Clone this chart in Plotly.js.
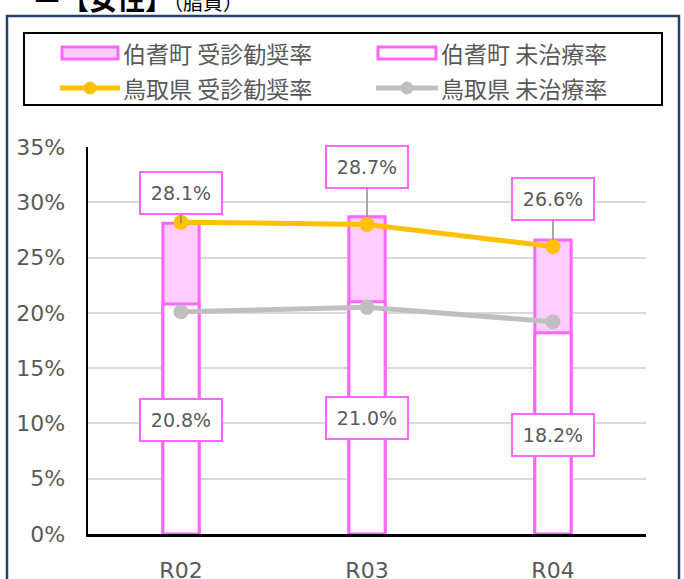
<!DOCTYPE html>
<html><head><meta charset="utf-8">
<script src="https://cdn.plot.ly/plotly-3.0.1.min.js"></script>
<style>html,body{margin:0;padding:0;background:#fff;overflow:hidden}#chart{width:684px;height:579px;}</style>
</head><body><div id="chart"></div>
<script>
// ---- data ----
const categories = ['R02', 'R03', 'R04'];
const hakuRecommend = [28.1, 28.7, 26.6];     // 伯耆町 受診勧奨率
const hakuUntreated = [20.8, 21.0, 18.2];     // 伯耆町 未治療率
const tottoriRecommend = [28.2, 28.0, 26.0];  // 鳥取県 受診勧奨率
const tottoriUntreated = [20.1, 20.5, 19.2];  // 鳥取県 未治療率
const seriesNames = ['伯耆町 受診勧奨率', '伯耆町 未治療率', '鳥取県 受診勧奨率', '鳥取県 未治療率'];
const yTickVals = [0, 5, 10, 15, 20, 25, 30, 35];
const yTickText = ['0%', '5%', '10%', '15%', '20%', '25%', '30%', '35%'];

// ---- layout constants ----
const W = 684, H = 579, ML = 88, MR = 38, MT = 147, MB = 45;
const PW = W - ML - MR, PH = H - MT - MB;
const px = x => (x - ML) / PW;
const py = y => (H - MB - y) / PH;
const PINK = '#FF66FF', PINKFILL = '#FFCCFF', ORANGE = '#FFC000', GRAY = '#BFBFBF', TXT = '#595959';
const FONT = 'DejaVu Sans, Noto Sans CJK JP, sans-serif';
const CJK = 'Noto Sans CJK JP, sans-serif';
const upperOffsets = [-30, -50, -41];       // px offset of upper label boxes
const lowerLabelY = [10.27, 10.45, 8.95];   // label box centres (axis units)

const traces = [
  {type: 'bar', name: seriesNames[0], x: categories, y: hakuRecommend, width: 0.195,
   marker: {color: PINKFILL, line: {color: PINK, width: 3}}, showlegend: false, hoverinfo: 'skip'},
  {type: 'bar', name: seriesNames[1], x: categories, y: hakuUntreated, width: 0.195,
   marker: {color: '#FFFFFF', line: {color: PINK, width: 3}}, showlegend: false, hoverinfo: 'skip'},
  {type: 'scatter', mode: 'lines+markers', name: seriesNames[2], x: categories, y: tottoriRecommend,
   line: {color: ORANGE, width: 5}, marker: {color: ORANGE, size: 15}, showlegend: false, hoverinfo: 'skip'},
  {type: 'scatter', mode: 'lines+markers', name: seriesNames[3], x: categories, y: tottoriUntreated,
   line: {color: GRAY, width: 5}, marker: {color: GRAY, size: 15}, showlegend: false, hoverinfo: 'skip'}
];

const annotations = [];
categories.forEach((c, i) => {
  annotations.push({x: c, y: hakuRecommend[i], xref: 'x', yref: 'y',
    text: hakuRecommend[i].toFixed(1) + '%', showarrow: true, arrowhead: 0, arrowwidth: 1.5,
    arrowcolor: '#8C8C8C', ax: 0, ay: upperOffsets[i], standoff: 0,
    bgcolor: '#FFFFFF', bordercolor: PINK, borderwidth: 2, borderpad: 3, width: 74, height: 34,
    font: {family: FONT, size: 19, color: TXT}});
  annotations.push({x: c, y: lowerLabelY[i], xref: 'x', yref: 'y',
    text: hakuUntreated[i].toFixed(1) + '%', showarrow: false, xanchor: 'center', yanchor: 'middle',
    bgcolor: '#FFFFFF', bordercolor: PINK, borderwidth: 2, borderpad: 3, width: 74, height: 34,
    font: {family: FONT, size: 19, color: TXT}});
});

// legend texts
const legendPos = [[121, 53], [439, 53], [121, 88], [439, 88]];
seriesNames.forEach((n, i) => {
  annotations.push({xref: 'paper', yref: 'paper', x: px(legendPos[i][0]), y: py(legendPos[i][1]),
    xanchor: 'left', yanchor: 'middle', showarrow: false, text: n,
    font: {family: CJK, size: 23, color: TXT}});
});

// partially visible heading
annotations.push({xref: 'paper', yref: 'paper', x: px(31), y: py(20), xanchor: 'left', yanchor: 'bottom',
  showarrow: false,
  text: '<span style="baseline-shift:8px">■</span><b>【女性】</b><span style="font-size:20px">（脂質）</span>',
  font: {family: CJK, size: 28, color: '#000000'}});

const shapes = [
  // outer frame
  {type: 'rect', xref: 'paper', yref: 'paper', x0: px(7), x1: px(679), y0: py(620), y1: py(16),
   line: {color: '#24406B', width: 2.5}, fillcolor: 'rgba(0,0,0,0)', layer: 'above'},
  // legend box
  {type: 'rect', xref: 'paper', yref: 'paper', x0: px(24), x1: px(662), y0: py(105), y1: py(33),
   line: {color: '#000000', width: 2}, fillcolor: 'rgba(0,0,0,0)', layer: 'above'},
  // legend symbols
  {type: 'rect', xref: 'paper', yref: 'paper', x0: px(62), x1: px(118), y0: py(59), y1: py(47),
   line: {color: PINK, width: 3}, fillcolor: PINKFILL, layer: 'above'},
  {type: 'rect', xref: 'paper', yref: 'paper', x0: px(378), x1: px(436), y0: py(59), y1: py(47),
   line: {color: PINK, width: 3}, fillcolor: '#FFFFFF', layer: 'above'},
  {type: 'line', xref: 'paper', yref: 'paper', x0: px(60), x1: px(120), y0: py(88), y1: py(88),
   line: {color: ORANGE, width: 5}, layer: 'above'},
  {type: 'circle', xref: 'paper', yref: 'paper', x0: px(84), x1: px(96), y0: py(94), y1: py(82),
   line: {color: ORANGE, width: 1}, fillcolor: ORANGE, layer: 'above'},
  {type: 'line', xref: 'paper', yref: 'paper', x0: px(376), x1: px(438), y0: py(88), y1: py(88),
   line: {color: GRAY, width: 5}, layer: 'above'},
  {type: 'circle', xref: 'paper', yref: 'paper', x0: px(401), x1: px(413), y0: py(94), y1: py(82),
   line: {color: GRAY, width: 1}, fillcolor: GRAY, layer: 'above'}
];

const layout = {
  width: W, height: H,
  margin: {l: ML, r: MR, t: MT, b: MB, pad: 0},
  paper_bgcolor: '#FFFFFF', plot_bgcolor: '#FFFFFF',
  barmode: 'overlay', showlegend: false,
  font: {family: FONT, color: TXT},
  xaxis: {type: 'category', range: [-0.5, 2.5], showgrid: false, zeroline: false,
    showline: true, linecolor: '#000000', linewidth: 3, ticks: '', ticklabelstandoff: 15,
    tickfont: {family: FONT, size: 22, color: TXT}, fixedrange: true, automargin: false},
  yaxis: {range: [0, 35], tickvals: yTickVals, ticktext: yTickText, showgrid: true,
    gridcolor: '#D9D9D9', gridwidth: 2, zeroline: false, showline: true, linecolor: '#000000',
    linewidth: 2.5, ticks: '', ticklabelstandoff: 16,
    tickfont: {family: FONT, size: 22, color: TXT}, fixedrange: true, automargin: false},
  annotations: annotations,
  shapes: shapes
};

Plotly.newPlot('chart', traces, layout, {displayModeBar: false, staticPlot: true});
</script>
</body></html>
